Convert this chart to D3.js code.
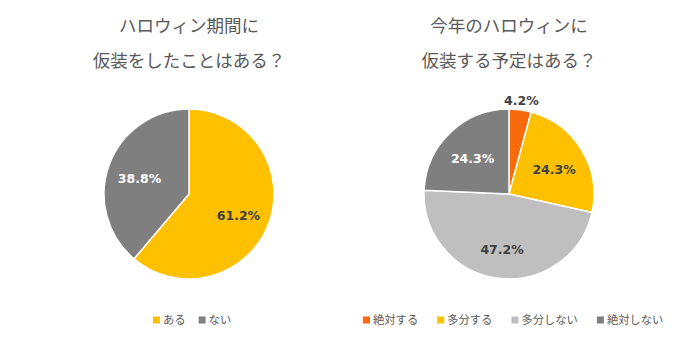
<!DOCTYPE html>
<html><head><meta charset="utf-8">
<script src="https://cdn.jsdelivr.net/npm/d3@7"></script>
<style>body{margin:0;background:#fff}svg{display:block}</style>
</head><body><svg id="c" width="700" height="341"></svg>
<script>
const leftTitle = ["ハロウィン期間に", "仮装をしたことはある？"];
const leftCats = ["ある", "ない"];
const leftVals = [61.2, 38.8];
const rightTitle = ["今年のハロウィンに", "仮装する予定はある？"];
const rightCats = ["絶対する", "多分する", "多分しない", "絶対しない"];
const rightVals = [4.2, 24.3, 47.2, 24.3];
const leftColors = ["#FFC000", "#7F7F7F"];
const rightColors = ["#F96A0C", "#FFC000", "#BFBFBF", "#7F7F7F"];

const svg = d3.select("#c");
const font = "'Noto Sans CJK JP', 'Noto Sans', sans-serif";
const R = 85;

function drawPie(cx, cy, title, cats, vals, colors, labelColors, legendX, legendGap) {
  const g = svg.append("g");
  g.selectAll("text.title").data(title).join("text")
    .attr("x", cx).attr("y", (d, i) => 32 + i * 35)
    .attr("text-anchor", "middle").attr("font-family", font)
    .attr("font-size", 17.5).attr("fill", "#595959").text(d => d);
  const pie = d3.pie().sort(null).value(d => d)(vals);
  const arc = d3.arc().innerRadius(0).outerRadius(R);
  const pg = g.append("g").attr("transform", `translate(${cx},${cy})`);
  pg.selectAll("path").data(pie).join("path")
    .attr("d", arc).attr("fill", (d, i) => colors[i])
    .attr("stroke", "#fff").attr("stroke-width", 1.5);
  const inner = d3.arc().innerRadius(R * 0.62).outerRadius(R * 0.62);
  const outer = d3.arc().innerRadius(R + 9).outerRadius(R + 9);
  pg.selectAll("text").data(pie).join("text")
    .attr("transform", d => {
      const small = (d.endAngle - d.startAngle) < 0.4;
      const c = (small ? outer : inner).centroid(d);
      return `translate(${c[0]},${c[1] + (small ? 0 : 3)})`;
    })
    .attr("text-anchor", "middle").attr("dy", "0.35em")
    .attr("font-family", "'DejaVu Sans', sans-serif").attr("font-weight", "bold")
    .attr("font-size", 12.5)
    .attr("fill", (d, i) => labelColors[i])
    .text(d => d.data.toFixed(1) + "%");
  // legend
  const lg = g.append("g").attr("transform", `translate(0,320)`);
  let x = legendX;
  cats.forEach((c, i) => {
    lg.append("rect").attr("x", x).attr("y", -3.5).attr("width", 7).attr("height", 7).attr("fill", colors[i]);
    const t = lg.append("text").attr("x", x + 10).attr("y", 0).attr("dy", "0.38em")
      .attr("font-family", font).attr("font-size", 11.3).attr("fill", "#595959").text(c);
    x += 10 + t.node().getComputedTextLength() + legendGap;
  });
}

drawPie(189, 194, leftTitle, leftCats, leftVals, leftColors, ["#404040", "#fff"], 153, 13);
drawPie(509, 194, rightTitle, rightCats, rightVals, rightColors, ["#404040", "#404040", "#404040", "#fff"], 363, 19);
</script></body></html>
